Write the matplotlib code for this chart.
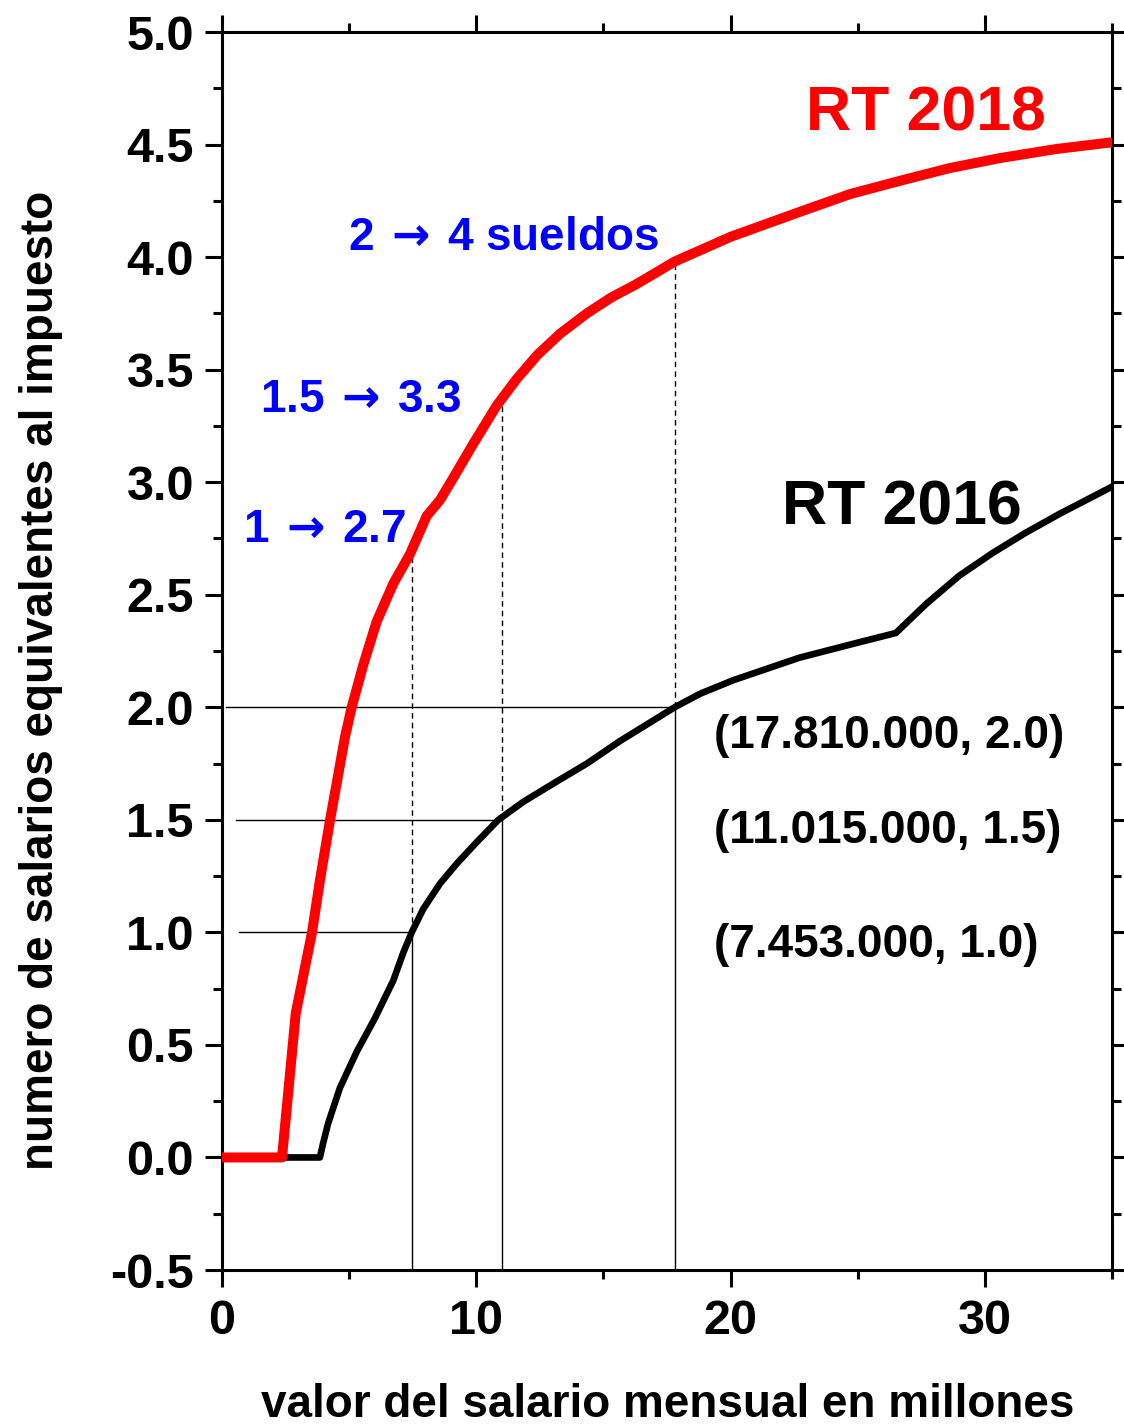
import numpy as np
import matplotlib
matplotlib.use('Agg')
import matplotlib.pyplot as plt
from matplotlib.ticker import MultipleLocator

# ---- data ----
rt2016_x = [0, 3.85, 3.97, 4.17, 4.64, 5.3, 6.02, 6.74, 7.13, 7.46, 7.92, 8.57, 9.23,
            10.01, 10.87, 11.85, 13.16, 14.35, 15.65, 16.8, 17.8, 18.8, 20.1, 22.7,
            25.1, 26.5, 27.7, 29.0, 30.3, 31.6, 32.95, 35]
rt2016_y = [0, 0, 0.06, 0.15, 0.31, 0.47, 0.62, 0.787, 0.91, 1.0, 1.105, 1.216, 1.305,
            1.40, 1.50, 1.58, 1.67, 1.75, 1.85, 1.93, 2.0, 2.06, 2.12, 2.22,
            2.29, 2.33, 2.46, 2.585, 2.685, 2.775, 2.86, 2.98]

rt2018_x = [0, 2.36, 2.9, 3.54, 3.85, 4.25, 4.84, 5.10, 5.56, 6.08, 6.74, 7.39, 8.05,
            8.57, 9.1, 9.88, 10.8, 11.6, 12.4, 13.3, 14.35, 15.3, 16.3, 17.8, 18.8,
            20.0, 22.7, 24.7, 26.7, 28.6, 30.6, 32.8, 35]
rt2018_y = [0, 0, 0.64, 1.0, 1.23, 1.5, 1.87, 2.0, 2.19, 2.38, 2.55, 2.68, 2.85,
            2.92, 3.02, 3.17, 3.34, 3.46, 3.565, 3.66, 3.75, 3.82, 3.88, 3.98, 4.03,
            4.09, 4.20, 4.28, 4.34, 4.395, 4.44, 4.48, 4.51]

ref_salary = [7.453, 11.015, 17.81]
ref_2016 = [1.0, 1.5, 2.0]
hline_start = [0.67, 0.55, 0.15]
ratio_labels = [r'1$\,\rightarrow\,$2.7', r'1.5$\,\rightarrow\,$3.3',
                r'2$\,\rightarrow\,$4 sueldos']
point_labels = ['(7.453.000, 1.0)', '(11.015.000, 1.5)', '(17.810.000, 2.0)']
series_labels = ['RT 2016', 'RT 2018']

x_major = [0, 10, 20, 30]
y_major = [-0.5, 0.0, 0.5, 1.0, 1.5, 2.0, 2.5, 3.0, 3.5, 4.0, 4.5, 5.0]

xlabel = 'valor del salario mensual en millones'
ylabel = 'numero de salarios equivalentes al impuesto'

# ---- styling ----
FONT = ['Liberation Sans', 'DejaVu Sans']
plt.rcParams['font.family'] = FONT
plt.rcParams['font.weight'] = 'bold'
plt.rcParams['mathtext.fontset'] = 'dejavusans'

fig = plt.figure(figsize=(11.24, 14.25), dpi=100)
ax = fig.add_axes([222 / 1124, 1 - 1270 / 1425, 890 / 1124, 1238 / 1425])

ax.set_xlim(0, 35)
ax.set_ylim(-0.5, 5.0)

# reference lines
red_at = np.interp(ref_salary, rt2018_x, rt2018_y)
for xs, y16, y18, x0 in zip(ref_salary, ref_2016, red_at, hline_start):
    ax.plot([x0, xs], [y16, y16], color='black', lw=1.0, zorder=2)
    ax.plot([xs, xs], [-0.5, y16], color='black', lw=1.0, zorder=2)
    ax.plot([xs, xs], [y16, y18], color='black', lw=1.0, ls=(0, (4, 3)), zorder=2)

ax.plot(rt2016_x, rt2016_y, color='black', lw=4.8, zorder=3,
        solid_joinstyle='round')
ax.plot(rt2018_x, rt2018_y, color='#ff0000', lw=7.2, zorder=4,
        solid_joinstyle='round')

# ticks
ax.xaxis.set_major_locator(plt.FixedLocator(x_major))
ax.xaxis.set_minor_locator(MultipleLocator(5))
ax.yaxis.set_major_locator(plt.FixedLocator(y_major))
ax.yaxis.set_minor_locator(MultipleLocator(0.25))
ax.set_xticklabels([str(v) for v in x_major])
ax.set_yticklabels(['%.1f' % v for v in y_major])
ax.tick_params(which='both', direction='out', top=True, right=True, width=2.2)
ax.tick_params(which='major', length=12.2, labelsize=35)
ax.tick_params(which='minor', length=6.5)
ax.tick_params(axis='y', which='major', pad=8)
ax.tick_params(axis='x', which='major', pad=9)
for lab in ax.get_xticklabels() + ax.get_yticklabels():
    lab.set_fontweight('bold')
for sp in ax.spines.values():
    sp.set_linewidth(2.2)

# axis labels
ax.set_xlabel(xlabel, fontsize=33, fontweight='bold')
ax.xaxis.label.set_va('baseline')
ax.xaxis.set_label_coords(0.501, -0.1185)
ax.set_ylabel(ylabel, fontsize=33, fontweight='bold')
ax.yaxis.label.set_va('baseline')
ax.yaxis.set_label_coords(-0.19, 0.4766)

# annotations
ax.text(22.97, 4.564, series_labels[1], color='#ff0000', fontsize=45,
        fontweight='bold', ha='left', va='baseline')
ax.text(22.02, 2.81, series_labels[0], color='black', fontsize=45,
        fontweight='bold', ha='left', va='baseline')

ratio_pos = [(0.83, 2.735), (1.49, 3.31), (4.95, 4.03)]
for (tx, ty), s in zip(ratio_pos, ratio_labels):
    ax.text(tx, ty, s, color='#0000ff', fontsize=33, fontweight='bold',
            ha='left', va='baseline')

point_pos = [(19.35, 0.889), (19.35, 1.396), (19.35, 1.82)]
for (tx, ty), s in zip(point_pos, point_labels):
    ax.text(tx, ty, s, color='black', fontsize=33, fontweight='bold',
            ha='left', va='baseline')

fig.savefig('out.png', dpi=100)
